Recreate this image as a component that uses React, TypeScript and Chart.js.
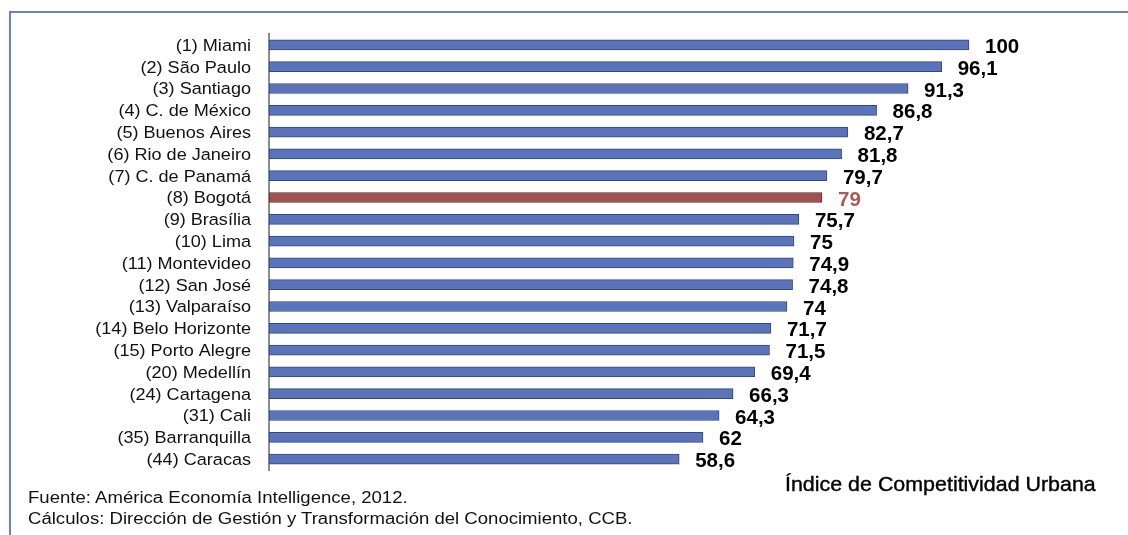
import React, { useEffect, useRef } from "react";
import { Chart, registerables } from "chart.js";

Chart.register(...registerables);

const cities = [
  "(1) Miami",
  "(2) São Paulo",
  "(3) Santiago",
  "(4) C. de México",
  "(5) Buenos Aires",
  "(6) Rio de Janeiro",
  "(7) C. de Panamá",
  "(8) Bogotá",
  "(9) Brasília",
  "(10) Lima",
  "(11) Montevideo",
  "(12) San José",
  "(13) Valparaíso",
  "(14) Belo Horizonte",
  "(15) Porto Alegre",
  "(20) Medellín",
  "(24) Cartagena",
  "(31) Cali",
  "(35) Barranquilla",
  "(44) Caracas",
];

const scores = [100, 96.1, 91.3, 86.8, 82.7, 81.8, 79.7, 79, 75.7, 75, 74.9, 74.8, 74, 71.7, 71.5, 69.4, 66.3, 64.3, 62, 58.6];

const highlightCity = "(8) Bogotá";

const axisTitle = "Índice de Competitividad Urbana";
const sourceLine = "Fuente: América Economía Intelligence, 2012.";
const calcLine = "Cálculos: Dirección de Gestión y Transformación del Conocimiento, CCB.";

const BLUE = "#5b73b8";
const BLUE_BORDER = "#34467f";
const RED = "#a05252";
const RED_BORDER = "#5e2a2a";
const RED_TEXT = "#a85a5a";
const FONT = "'Liberation Sans', Arial, sans-serif";

const categoryLabels = {
  id: "categoryLabels",
  afterDraw(chart: any) {
    const ctx = chart.ctx;
    const ys = chart.scales.y;
    const xRight = ys.right - 18;
    ctx.save();
    ctx.font = `16.3px ${FONT}`;
    ctx.fillStyle = "#111";
    ctx.textAlign = "right";
    ctx.textBaseline = "middle";
    ys.ticks.forEach((_t: any, i: number) => {
      const y = ys.getPixelForTick(i) + 1.5;
      ctx.save();
      ctx.translate(xRight, y);
      ctx.scale(1.11, 1);
      ctx.fillText(String(ys.getLabelForValue(i)), 0, 0);
      ctx.restore();
    });
    ctx.restore();
  },
};

const valueLabels = {
  id: "valueLabels",
  afterDatasetsDraw(chart: any) {
    const ctx = chart.ctx;
    const meta = chart.getDatasetMeta(0);
    ctx.save();
    ctx.font = `bold 20.5px ${FONT}`;
    ctx.textAlign = "left";
    ctx.textBaseline = "middle";
    meta.data.forEach((bar: any, i: number) => {
      const v = scores[i];
      ctx.fillStyle = cities[i] === highlightCity ? RED_TEXT : "#000";
      ctx.fillText(String(v).replace(".", ","), bar.x + 16, bar.y + 2.5);
    });
    ctx.restore();
  },
};

export default function App() {
  const ref = useRef<HTMLCanvasElement | null>(null);

  useEffect(() => {
    if (!ref.current) return;
    const chart = new Chart(ref.current, {
      type: "bar",
      data: {
        labels: cities,
        datasets: [
          {
            data: scores,
            backgroundColor: cities.map((c) => (c === highlightCity ? RED : BLUE)),
            borderColor: cities.map((c) => (c === highlightCity ? RED_BORDER : BLUE_BORDER)),
            borderWidth: 1,
            barThickness: 10,
            borderSkipped: false,
          },
        ],
      },
      options: {
        indexAxis: "y",
        animation: false,
        responsive: false,
        layout: { padding: { left: 0, top: 34, bottom: 65, right: 19 } },
        plugins: {
          legend: { display: false },
          tooltip: { enabled: false },
          title: { display: false },
        },
        scales: {
          x: {
            display: false,
            min: 0,
            max: 120,
          },
          y: {
            type: "category",
            afterFit: (s: any) => {
              s.width = 269;
            },
            grid: { display: false, drawTicks: false },
            border: { display: true, color: "#8c8c8c", width: 2 },
            ticks: {
              display: false,
              autoSkip: false,
            },
          },
        },
      },
      plugins: [valueLabels, categoryLabels],
    });
    return () => chart.destroy();
  }, []);

  const stretched = (left: number, top: number, size: number, sx: number, text: string, extra: any = {}) => (
    <div
      style={{
        position: "absolute",
        left,
        top,
        fontSize: size,
        lineHeight: `${Math.round(size * 1.15)}px`,
        color: "#111",
        whiteSpace: "nowrap",
        transform: `scaleX(${sx})`,
        transformOrigin: "0 0",
        ...extra,
      }}
    >
      {text}
    </div>
  );

  return (
    <div
      style={{
        position: "absolute",
        left: 0,
        top: 0,
        width: 1128,
        height: 535,
        background: "#fff",
        overflow: "hidden",
        fontFamily: FONT,
      }}
    >
      <div
        style={{
          position: "absolute",
          left: 9,
          top: 11,
          width: 1119,
          height: 524,
          borderLeft: "2px solid #6b80c2",
          borderTop: "2px solid #6b80c2",
          boxSizing: "border-box",
        }}
      />
      <canvas ref={ref} width={1128} height={535} style={{ position: "absolute", left: 0, top: 0 }} />
      {stretched(785, 472, 21, 1.02, axisTitle, { color: "#000", WebkitTextStroke: "0.4px #000" })}
      {stretched(28, 489, 16, 1.16, sourceLine)}
      {stretched(28, 510, 16, 1.16, calcLine)}
    </div>
  );
}
